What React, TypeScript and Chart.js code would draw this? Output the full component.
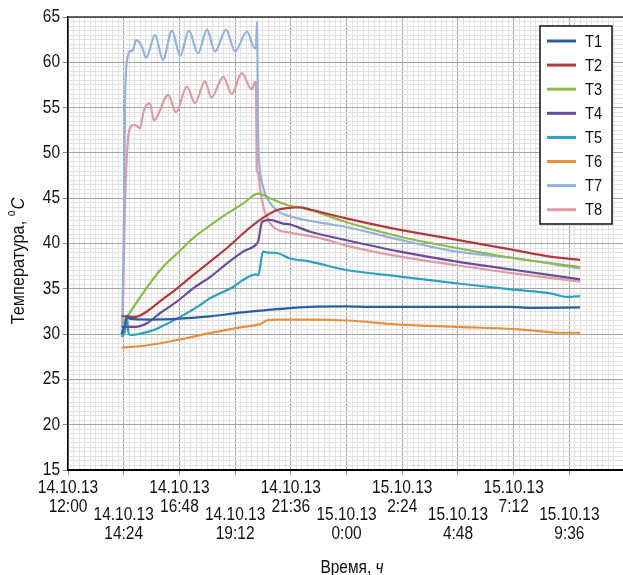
import React, { useEffect, useRef } from 'react';
import { Chart, registerables } from 'chart.js';

Chart.register(...registerables);

const FONT = "'Liberation Sans', Arial, sans-serif";
const SX = 0.86; // horizontal condensing to mimic a narrow face

// ---- data (x in hours since 14.10.13 12:00) ----
const seriesNames = ['T1', 'T2', 'T3', 'T4', 'T5', 'T6', 'T7', 'T8'];
const seriesColors = ['#2b5e9f', '#b5383b', '#8cbb47', '#6a4c9c', '#2aa3bf', '#e8913c', '#93b2e0', '#e09aa2'];

const t1Hours = [2.31, 2.45, 2.54, 2.65, 3.5, 4.8, 6.1, 7.5, 8.3, 9.0, 10.4, 12.0, 13.0, 16.0, 19.0, 20.0, 22.06];
const t1Values = [30.0, 31.0, 32.0, 31.7, 31.6, 31.7, 31.95, 32.4, 32.6, 32.75, 33.0, 33.05, 33.0, 33.0, 33.0, 32.9, 32.95];

const t2Hours = [2.31, 2.9, 3.4, 3.96, 4.7, 5.39, 6.12, 6.85, 7.54, 8.27, 9.01, 9.44, 10.0, 10.43, 11.94, 14.31, 16.76, 19.18, 20.77, 22.06];
const t2Values = [32.0, 31.9, 32.5, 33.6, 35.05, 36.5, 38.0, 39.5, 41.1, 42.6, 43.7, 43.9, 44.0, 43.75, 42.8, 41.5, 40.4, 39.3, 38.55, 38.2];

const t3Hours = [2.37, 2.93, 3.53, 4.09, 4.7, 5.39, 6.12, 6.85, 7.54, 8.19, 8.7, 9.44, 10.43, 11.94, 14.31, 16.76, 19.18, 22.06];
const t3Values = [31.2, 33.4, 35.6, 37.4, 38.9, 40.6, 42.0, 43.3, 44.4, 45.5, 45.0, 44.25, 43.7, 42.4, 40.75, 39.5, 38.4, 37.4];

const t4Hours = [2.31, 2.9, 3.4, 3.96, 4.7, 5.39, 6.12, 6.85, 7.54, 8.14, 8.2, 8.36, 8.7, 9.26, 9.57, 10.43, 11.94, 14.31, 16.76, 19.18, 22.06];
const t4Values = [30.8, 30.8, 31.2, 32.3, 33.6, 35.05, 36.3, 37.8, 39.1, 40.0, 40.3, 42.4, 42.6, 42.2, 42.1, 41.3, 40.4, 39.1, 38.0, 37.1, 36.05];

const t5Hours = [2.31, 2.45, 2.54, 2.6, 2.7, 3.2, 3.7, 4.0, 4.8, 5.69, 6.12, 6.55, 7.11, 7.54, 8.1, 8.2, 8.4, 8.6, 9.0, 9.57, 10.43, 11.94, 14.31, 16.76, 19.18, 20.77, 21.5, 22.06];
const t5Values = [29.7, 30.3, 31.9, 30.2, 29.9, 30.1, 30.45, 30.8, 31.85, 33.2, 33.97, 34.5, 35.2, 35.97, 36.6, 36.5, 39.1, 39.0, 38.95, 38.35, 38.0, 37.1, 36.35, 35.6, 34.9, 34.5, 34.1, 34.2];

const t6Hours = [2.31, 3.5, 4.7, 6.1, 7.54, 8.27, 8.56, 9.0, 10.4, 12.0, 14.3, 16.8, 19.2, 20.4, 21.0, 22.06];
const t6Values = [28.5, 28.8, 29.35, 30.1, 30.8, 31.1, 31.5, 31.6, 31.6, 31.5, 31.05, 30.8, 30.55, 30.3, 30.15, 30.15];

const t7Hours = [2.33, 2.42, 2.46, 2.54, 2.67, 2.8, 2.93, 3.19, 3.36, 3.75, 4.09, 4.48, 4.83, 5.21, 5.6, 5.99, 6.33, 6.81, 7.2, 7.71, 7.97, 8.1, 8.14, 8.19, 8.23, 8.4, 8.7, 9.14, 9.57, 10.86, 11.94, 14.31, 16.76, 19.18, 22.06];
const t7Values = [30.0, 45.0, 55.8, 60.1, 61.2, 61.35, 62.45, 61.7, 60.5, 63.0, 60.25, 63.5, 60.7, 63.5, 61.0, 63.6, 61.2, 63.6, 61.2, 63.4, 61.8, 61.5, 64.5, 52.2, 49.2, 46.3, 44.5, 43.4, 43.0, 42.3, 41.85, 40.4, 39.1, 38.4, 37.25];

const t8Hours = [2.35, 2.46, 2.58, 2.67, 2.8, 2.95, 3.1, 3.27, 3.53, 3.7, 4.32, 4.65, 5.12, 5.47, 5.9, 6.18, 6.69, 7.05, 7.48, 7.92, 8.06, 8.1, 8.13, 8.19, 8.3, 8.49, 8.83, 9.57, 10.86, 11.94, 14.31, 16.76, 19.18, 22.06];
const t8Values = [30.0, 44.8, 51.4, 52.7, 53.1, 53.0, 52.7, 54.7, 55.5, 53.6, 56.4, 54.5, 57.3, 55.5, 57.9, 56.1, 58.4, 56.5, 58.8, 57.0, 57.85, 57.6, 48.1, 47.8, 45.6, 43.4, 41.85, 41.2, 40.6, 39.8, 38.55, 37.6, 36.7, 35.8];

const seriesHours = [t1Hours, t2Hours, t3Hours, t4Hours, t5Hours, t6Hours, t7Hours, t8Hours];
const seriesValues = [t1Values, t2Values, t3Values, t4Values, t5Values, t6Values, t7Values, t8Values];

// ---- axis ticks ----
const xTickHours = [0, 2.4, 4.8, 7.2, 9.6, 12, 14.4, 16.8, 19.2, 21.6];
const xTickDates = ['14.10.13', '14.10.13', '14.10.13', '14.10.13', '14.10.13', '15.10.13', '15.10.13', '15.10.13', '15.10.13', '15.10.13'];
const xTickTimes = ['12:00', '14:24', '16:48', '19:12', '21:36', '0:00', '2:24', '4:48', '7:12', '9:36'];
const yTickValues = [15, 20, 25, 30, 35, 40, 45, 50, 55, 60, 65];
const yMin = 15;
const yMax = 65;
const yMajorStep = 5;
const yMinorStep = 0.5;
const xMin = 0;
const xMax = 23.91;
const xMajorStep = 2.4;
const xMinorStep = 0.24;

const MAJOR = '#a6a6a6';
const MINOR = '#e2e2e2';

const isMajorX = (v: number) => Math.abs(v / xMajorStep - Math.round(v / xMajorStep)) < 1e-6;
const isMajorY = (v: number) => Math.abs(v / yMajorStep - Math.round(v / yMajorStep)) < 1e-6;

function textW(ctx: CanvasRenderingContext2D, t: string, size: number, italic = false) {
  ctx.font = `${italic ? 'italic ' : ''}${size}px ${FONT}`;
  return ctx.measureText(t).width * SX;
}

// draws condensed text; x is the anchor according to align
function drawT(
  ctx: CanvasRenderingContext2D,
  t: string,
  x: number,
  y: number,
  size: number,
  align: 'left' | 'center' | 'right' = 'left',
  italic = false
) {
  ctx.save();
  ctx.font = `${italic ? 'italic ' : ''}${size}px ${FONT}`;
  ctx.textAlign = align;
  ctx.textBaseline = 'middle';
  ctx.translate(x, y);
  ctx.scale(SX, 1);
  ctx.fillText(t, 0, 0);
  ctx.restore();
}

const decorPlugin = {
  id: 'decor',
  afterDraw(chart: any) {
    const ctx = chart.ctx as CanvasRenderingContext2D;
    const area = chart.chartArea;
    const xs = chart.scales.x;
    const ys = chart.scales.y;
    ctx.save();
    // top border
    ctx.strokeStyle = '#333';
    ctx.lineWidth = 1.5;
    ctx.beginPath();
    ctx.moveTo(area.left, area.top);
    ctx.lineTo(area.right, area.top);
    ctx.stroke();

    ctx.fillStyle = '#111';

    // y labels
    yTickValues.forEach((v) => {
      drawT(ctx, String(v), 60, ys.getPixelForValue(v), 18, 'right');
    });

    // x labels (staggered)
    xTickHours.forEach((h, i) => {
      const px = xs.getPixelForValue(h);
      const y0 = i % 2 === 0 ? 488 : 515;
      drawT(ctx, xTickDates[i], px, y0, 18, 'center');
      drawT(ctx, xTickTimes[i], px, y0 + 19, 18, 'center');
    });

    // x title
    const a = 'Время, ';
    const b = 'ч';
    const wa = textW(ctx, a, 18);
    const wb = textW(ctx, b, 18, true);
    const sx = 352 - (wa + wb) / 2;
    drawT(ctx, a, sx, 568, 18, 'left');
    drawT(ctx, b, sx + wa, 568, 18, 'left', true);

    // y title (rotated)
    ctx.save();
    ctx.translate(19, 261);
    ctx.rotate(-Math.PI / 2);
    const ya = 'Температура, ';
    const wya = textW(ctx, ya, 19);
    const wyo = textW(ctx, 'o', 12);
    const wyc = textW(ctx, 'C', 19, true);
    const ty = -(wya + wyo + wyc + 1) / 2;
    drawT(ctx, ya, ty, 0, 19, 'left');
    drawT(ctx, 'o', ty + wya, -7, 12, 'left');
    drawT(ctx, 'C', ty + wya + wyo + 1, 0, 19, 'left', true);
    ctx.restore();

    // legend
    const lx = 540, ly = 26, lw = 72, lh = 198;
    ctx.fillStyle = '#fff';
    ctx.fillRect(lx, ly, lw, lh);
    ctx.strokeStyle = '#111';
    ctx.lineWidth = 1.5;
    ctx.strokeRect(lx, ly, lw, lh);
    chart.data.datasets.forEach((ds: any, i: number) => {
      const yy = ly + 15 + i * 24.1;
      ctx.strokeStyle = ds.borderColor;
      ctx.lineWidth = 3;
      ctx.beginPath();
      ctx.moveTo(547, yy);
      ctx.lineTo(576, yy);
      ctx.stroke();
      ctx.fillStyle = '#111';
      drawT(ctx, ds.label, 585, yy + 1, 17, 'left');
    });
    ctx.restore();
  },
};

export default function App() {
  const ref = useRef<HTMLCanvasElement | null>(null);

  useEffect(() => {
    if (!ref.current) return;
    const datasets = seriesNames.map((name, i) => ({
      label: name,
      data: seriesHours[i].map((h, j) => ({ x: h, y: seriesValues[i][j] })),
      borderColor: seriesColors[i],
      backgroundColor: seriesColors[i],
      borderWidth: 2.2,
      pointRadius: 0,
      cubicInterpolationMode: 'monotone' as const,
      fill: false,
    }));
    const chart = new Chart(ref.current, {
      type: 'line',
      data: { datasets },
      plugins: [decorPlugin],
      options: {
        responsive: false,
        animation: false,
        events: [],
        layout: { padding: { top: 17, right: 0, left: 0, bottom: 0 } },
        plugins: { legend: { display: false }, title: { display: false }, tooltip: { enabled: false } },
        scales: {
          x: {
            type: 'linear',
            min: xMin,
            max: xMax,
            ticks: { stepSize: xMinorStep, autoSkip: false, display: false },
            grid: {
              color: (c: any) => (c.tick && isMajorX(c.tick.value) ? MAJOR : MINOR),
              tickColor: (c: any) => (c.tick && isMajorX(c.tick.value) ? '#888' : 'rgba(0,0,0,0)'),
              tickLength: 5,
              lineWidth: 1,
            },
            border: { display: true, color: '#000', width: 2 },
            afterFit: (s: any) => {
              s.height = 105;
            },
          },
          y: {
            type: 'linear',
            min: yMin,
            max: yMax,
            ticks: { stepSize: yMinorStep, autoSkip: false, display: false },
            grid: {
              color: (c: any) => (c.tick && isMajorY(c.tick.value) ? MAJOR : MINOR),
              tickColor: (c: any) => (c.tick && isMajorY(c.tick.value) ? '#888' : 'rgba(0,0,0,0)'),
              tickLength: 5,
              lineWidth: 1,
            },
            border: { display: true, color: '#000', width: 1.5 },
            afterFit: (s: any) => {
              s.width = 68;
            },
          },
        },
      },
    });
    return () => chart.destroy();
  }, []);

  return (
    <div style={{ position: 'fixed', left: 0, top: 0, width: 623, height: 575, background: '#fff', overflow: 'hidden' }}>
      <canvas ref={ref} width={623} height={575} style={{ display: 'block' }} />
    </div>
  );
}
